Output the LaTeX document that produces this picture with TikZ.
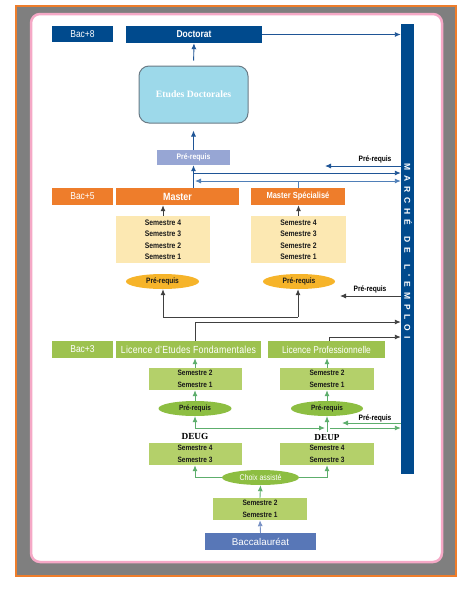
\documentclass[tikz,border=0pt]{standalone}
\usepackage{fontspec}
\setmainfont{Liberation Sans}[FakeStretch=0.85]
\newfontfamily\plainsans{Liberation Sans}
\newfontfamily\seriffam{Liberation Serif}
\usetikzlibrary{arrows.meta,calc,shapes.geometric}
\definecolor{dblue}{HTML}{004A8D}
\definecolor{obar}{HTML}{EE7D2B}
\definecolor{grayb}{HTML}{7F7F7F}
\definecolor{pinkb}{HTML}{F5A8C6}
\definecolor{ltblue}{HTML}{9DD9EA}
\definecolor{lav}{HTML}{97A6D4}
\definecolor{ltyel}{HTML}{FCE8B2}
\definecolor{yel}{HTML}{F6B42A}
\definecolor{grnlic}{HTML}{9DC24F}
\definecolor{grnsem}{HTML}{B4D06A}
\definecolor{grnell}{HTML}{8DBE42}
\definecolor{baccol}{HTML}{5877B7}
\definecolor{garrow}{HTML}{5DAE6C}
\definecolor{barrow}{HTML}{1F5596}
\definecolor{barrowl}{HTML}{4F7FB8}
\definecolor{edgegray}{HTML}{6B7B86}
\definecolor{txtdark}{HTML}{1A1A1A}
\tikzset{
  bx/.style={rectangle, inner sep=0pt, align=center},
  elp/.style={ellipse, inner sep=0pt, align=center},
  tip/.style={-{Latex[length=6pt,width=5pt]}},
  ablue/.style={draw=barrow, line width=0.9pt},
  abluel/.style={draw=barrowl, line width=0.9pt},
  ablack/.style={draw=black!75, line width=0.9pt},
  agreen/.style={draw=garrow, line width=0.9pt},
  semf/.style={font=\bfseries\fontsize{8}{11.5}\selectfont, text=txtdark},
  prqlab/.style={font=\bfseries\fontsize{7.8}{9}\selectfont, text=black},
}
\begin{document}
\begin{tikzpicture}[x=1pt,y=-1pt]
\useasboundingbox (0,0) rectangle (474,590);
\fill[white] (0,0) rectangle (474,590);
\draw[obar, line width=2.5pt, fill=grayb] (16,6) rectangle (456,576);
\draw[pinkb, line width=2.5pt, fill=white, rounded corners=9pt] (31,14) rectangle (442,562);

% market bar
\node[bx, fill=dblue, minimum width=13pt, minimum height=450pt] (bar) at (407.5,249) {};
\node[rotate=-90, text=white, font=\plainsans\bfseries\fontsize{8.5}{10}\selectfont, inner sep=0pt] (bartxt) at (408,251)
  {\addfontfeatures{LetterSpace=58}MARCHÉ\hspace{4pt} DE\hspace{4pt} L'EMPLOI};

% level labels
\node[bx, fill=dblue, minimum width=61pt, minimum height=16pt, text=white, font=\fontsize{10}{12}\selectfont] (bac8) at (82.5,34) {Bac+8};
\node[bx, fill=obar, minimum width=61pt, minimum height=17pt, text=white, font=\fontsize{10}{12}\selectfont] (bac5) at (82.5,196.5) {Bac+5};
\node[bx, fill=grnlic, minimum width=61pt, minimum height=17pt, text=white, font=\fontsize{10}{12}\selectfont] (bac3) at (82.5,349.5) {Bac+3};

% doctorate
\node[bx, fill=dblue, minimum width=136pt, minimum height=17pt, text=white, font=\bfseries\fontsize{10}{12}\selectfont] (doct) at (194,34.5) {Doctorat};
\node[bx, draw=edgegray, line width=1pt, fill=ltblue, rounded corners=10pt, minimum width=109pt, minimum height=57pt, text=white, font=\seriffam\bfseries\fontsize{9.7}{12}\selectfont] (etudes) at (193.5,94.5) {Etudes Doctorales};
\node[bx, fill=lav, minimum width=73pt, minimum height=15pt, text=white, font=\bfseries\fontsize{8}{10}\selectfont] (prq1) at (193.5,157.5) {Pré-requis};

% master
\node[bx, fill=obar, minimum width=123pt, minimum height=17pt, text=white, font=\bfseries\fontsize{10.5}{12}\selectfont] (master) at (177.5,196.5) {Master};
\node[bx, fill=obar, minimum width=94pt, minimum height=17pt, text=white, font=\bfseries\fontsize{8.8}{11}\selectfont] (ms) at (298,196.5) {Master Spécialisé};
\node[bx, fill=ltyel, minimum width=94pt, minimum height=47pt, semf] (semM) at (163,239.5) {Semestre 4\\Semestre 3\\Semestre 2\\Semestre 1};
\node[bx, fill=ltyel, minimum width=95pt, minimum height=47pt, semf] (semMS) at (298.5,239.5) {Semestre 4\\Semestre 3\\Semestre 2\\Semestre 1};
\node[elp, fill=yel, minimum width=73pt, minimum height=15pt, font=\bfseries\fontsize{7.8}{9}\selectfont, text=txtdark] (ell1) at (162.5,281.5) {Pré-requis};
\node[elp, fill=yel, minimum width=72pt, minimum height=15pt, font=\bfseries\fontsize{7.8}{9}\selectfont, text=txtdark] (ell2) at (299,281.5) {Pré-requis};

% licence
\node[bx, fill=grnlic, minimum width=145pt, minimum height=17pt, text=white, font=\fontsize{10.3}{12}\selectfont] (lef) at (188.5,349.5) {\addfontfeatures{LetterSpace=2}Licence d'Etudes Fondamentales};
\node[bx, fill=grnlic, minimum width=117pt, minimum height=17pt, text=white, font=\fontsize{9.9}{12}\selectfont] (lp) at (326.5,349.5) {Licence Professionnelle};
\node[bx, fill=grnsem, minimum width=93pt, minimum height=22pt, font=\bfseries\fontsize{7.7}{12}\selectfont, text=txtdark] (s21a) at (195,379) {Semestre 2\\Semestre 1};
\node[bx, fill=grnsem, minimum width=94pt, minimum height=22pt, font=\bfseries\fontsize{7.7}{12}\selectfont, text=txtdark] (s21b) at (327,379) {Semestre 2\\Semestre 1};
\node[elp, fill=grnell, minimum width=73pt, minimum height=15pt, font=\bfseries\fontsize{7.6}{9}\selectfont, text=txtdark] (ell3) at (195,408.5) {Pré-requis};
\node[elp, fill=grnell, minimum width=72pt, minimum height=15pt, font=\bfseries\fontsize{7.6}{9}\selectfont, text=txtdark] (ell4) at (327,408.5) {Pré-requis};

% DEUG / DEUP
\node[font=\seriffam\bfseries\fontsize{9.3}{11}\selectfont, inner sep=0pt] (deug) at (195,436) {DEUG};
\node[font=\seriffam\bfseries\fontsize{9.2}{11}\selectfont, inner sep=0pt] (deup) at (327,437.5) {DEUP};
\node[bx, fill=grnsem, minimum width=93pt, minimum height=22pt, font=\bfseries\fontsize{7.7}{12}\selectfont, text=txtdark] (s43a) at (195,454) {Semestre 4\\Semestre 3};
\node[bx, fill=grnsem, minimum width=94pt, minimum height=22pt, font=\bfseries\fontsize{7.7}{12}\selectfont, text=txtdark] (s43b) at (327,454) {Semestre 4\\Semestre 3};
\node[elp, fill=grnell, minimum width=77pt, minimum height=15pt, font=\fontsize{8.3}{10}\selectfont, text=white] (choix) at (260.5,477.5) {Choix assisté};
\node[bx, fill=grnsem, minimum width=94pt, minimum height=22pt, font=\bfseries\fontsize{7.7}{12}\selectfont, text=txtdark] (s21c) at (260,509) {Semestre 2\\Semestre 1};
\node[bx, fill=baccol, minimum width=111pt, minimum height=17pt, font=\plainsans\fontsize{9.8}{12}\selectfont, text=white] (bacc) at (260.5,541.5) {Baccalauréat};

% Pre-requis labels near the bar
\node[prqlab] (lab1) at (375,159) {Pré-requis};
\node[prqlab] (lab2) at (370,289.5) {Pré-requis};
\node[prqlab] (lab3) at (375,418) {Pré-requis};

% ---- blue connectors
\draw[ablue, tip] (doct.east) -- (doct.east -| bar.west);
\draw[ablue, tip, shorten <=5pt] (etudes.north) -- (doct.south);
\draw[ablue, tip, shorten >=7pt] (prq1.north) -- (etudes.south);
\draw[ablue, tip] (prq1.south |- master.north) -- (prq1.south);
\coordinate (j1) at (193,173);
\draw[ablue, tip] (j1) -- (j1 -| bar.west);
\coordinate (j2) at (195,181);
\draw[abluel, {Latex[length=6pt,width=5pt]}-{Latex[length=6pt,width=5pt]}] (j2) -- (j2 -| bar.west);
\draw[abluel] (ms.north) -- (ms.north |- j2);
\coordinate (p1) at (325,166);
\draw[ablue, tip] (p1 -| bar.west) -- (p1);

% ---- black connectors
\draw[ablack, tip] (semM.north) -- (semM.north |- master.south);
\draw[ablack, tip] (semMS.north) -- (semMS.north |- ms.south);
\coordinate (k1) at (163,317);
\coordinate (k2) at (298,317);
\draw[ablack] (k1) -- (k2);
\draw[ablack, tip] (k1) -- (k1 |- ell1.south);
\draw[ablack, tip] (k2) -- (k2 |- ell2.south);
\coordinate (k3) at (195,322);
\draw[ablack, tip] (k3 |- lef.north) -- (k3) -- (k3 -| bar.west);
\coordinate (k4) at (329,337);
\draw[ablack, tip] (k4 |- lp.north) -- (k4) -- (k4 -| bar.west);
\coordinate (p2) at (340,296);
\draw[ablack, tip] (p2 -| bar.west) -- (p2);

% ---- green connectors
\draw[agreen, tip] (s21a.north) -- (s21a.north |- lef.south);
\draw[agreen, tip] (s21b.north) -- (s21b.north |- lp.south);
\draw[agreen, tip] (ell3.north) -- (s21a.south);
\draw[agreen, tip] (ell4.north) -- (s21b.south);
\coordinate (g1) at (195,428);
\coordinate (g2) at (327,432);
\coordinate (g3) at (325,428);
\coordinate (g4) at (330,428);
\draw[agreen, tip] (g1) -- (ell3.south);
\draw[agreen, tip] (g1) -- (g3);
\draw[agreen, tip] (g2) -- (ell4.south);
\draw[agreen, tip] (g4) -- (g4 -| bar.west);
\coordinate (p3) at (342,423);
\draw[agreen, tip] (p3 -| bar.west) -- (p3);
\draw[agreen, tip] (choix.west) -| (s43a.south);
\draw[agreen, tip] (choix.east) -| (s43b.south);
\draw[agreen, tip] (s21c.north) -- (choix.south);
\draw[draw=baccol!80, line width=0.9pt, tip] (bacc.north) -- (s21c.south);
\end{tikzpicture}
\end{document}
